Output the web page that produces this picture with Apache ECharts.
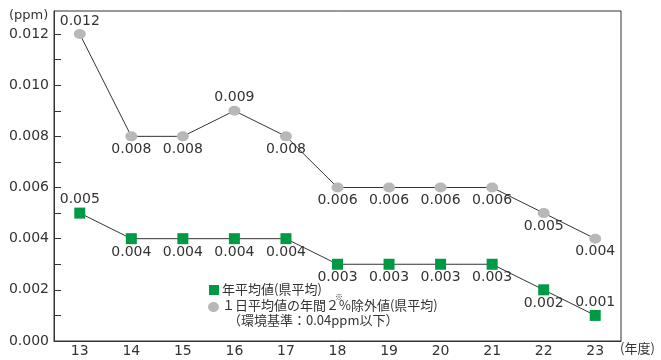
<!DOCTYPE html>
<html><head><meta charset="utf-8">
<script src="https://cdn.jsdelivr.net/npm/echarts@6/dist/echarts.min.js"></script>
<style>html,body{margin:0;padding:0;background:#fff}#c{width:661px;height:360px}</style>
</head><body><div id="c"></div>
<script>
const years = ['13','14','15','16','17','18','19','20','21','22','23'];
const annualAvg = [0.005,0.004,0.004,0.004,0.004,0.003,0.003,0.003,0.003,0.002,0.001];
const excl2pct = [0.012,0.008,0.008,0.009,0.008,0.006,0.006,0.006,0.006,0.005,0.004];
const annualLabelPos = ['top','bottom','bottom','bottom','bottom','bottom','bottom','bottom','bottom','bottom','top'];
const exclLabelPos = ['top','bottom','bottom','top','bottom','bottom','bottom','bottom','bottom','bottom','bottom'];
const yTicks = [0,0.001,0.002,0.003,0.004,0.005,0.006,0.007,0.008,0.009,0.010,0.011,0.012];
const yLabels = [0,0.002,0.004,0.006,0.008,0.010,0.012];

const FONT = 'DejaVu Sans';
const TXT = '#333333';
const chart = echarts.init(document.getElementById('c'), null, {renderer:'canvas'});
function mk(vals, pos){
  return vals.map((v,i)=>({value:v,label:{position:pos[i]}}));
}
chart.setOption({
  animation:false,
  grid:{left:54,right:40,top:11,bottom:19,show:true,borderColor:'#333',borderWidth:1,backgroundColor:'transparent'},
  xAxis:{type:'category',data:years,boundaryGap:true,
    axisLine:{lineStyle:{color:'#333',width:1}},
    axisTick:{alignWithLabel:true,inside:true,length:6,lineStyle:{color:'#333'}},
    axisLabel:{color:TXT,fontFamily:FONT,fontSize:14,margin:3}},
  yAxis:{type:'value',min:0,max:0.0129,
    axisLine:{show:true,lineStyle:{color:'#333',width:1}},
    axisTick:{show:true,inside:true,length:7,customValues:yTicks,lineStyle:{color:'#333'}},
    axisLabel:{customValues:yLabels,color:TXT,fontFamily:FONT,fontSize:14,margin:5,formatter:v=>v.toFixed(3)},
    splitLine:{show:false}},
  series:[
    {name:'1日平均値の年間2%除外値(県平均)',type:'line',data:mk(excl2pct,exclLabelPos),
     symbol:'circle',symbolSize:[12,10],itemStyle:{color:'#b8b8b8'},
     lineStyle:{color:'#333',width:1},z:2,
     label:{show:true,distance:1,color:TXT,fontFamily:FONT,fontSize:14,formatter:p=>p.value.toFixed(3)}},
    {name:'年平均値(県平均)',type:'line',data:mk(annualAvg,annualLabelPos),
     symbol:'rect',symbolSize:11,itemStyle:{color:'#009944'},
     lineStyle:{color:'#333',width:1},z:3,
     label:{show:true,distance:1,color:TXT,fontFamily:FONT,fontSize:14,formatter:p=>p.value.toFixed(3)}}
  ],
  graphic:[
    {type:'text',left:9,top:9,style:{text:'(ppm)',fill:TXT,font:'13px "DejaVu Sans"'}},
    {type:'text',x:620,y:342,style:{text:'(年度)',fill:TXT,font:'13px "Noto Sans CJK JP"'}},
    {type:'rect',shape:{x:209,y:285,width:10,height:10},style:{fill:'#009944'}},
    {type:'text',x:222,y:283,style:{text:'年平均値(県平均)',fill:TXT,font:'13px "Noto Sans CJK JP"'}},
    {type:'text',x:335,y:293,style:{text:'※',fill:TXT,font:'8px "Noto Sans CJK JP"'}},
    {type:'ellipse',shape:{cx:213.5,cy:307,rx:5.5,ry:5},style:{fill:'#b8b8b8'}},
    {type:'text',x:222,y:299,style:{text:'１日平均値の年間２%除外値(県平均)',fill:TXT,font:'13px "Noto Sans CJK JP"'}},
    {type:'text',x:228,y:314,style:{text:'（環境基準：0.04ppm以下）',fill:TXT,font:'13px "Noto Sans CJK JP"'}}
  ]
});
</script></body></html>
